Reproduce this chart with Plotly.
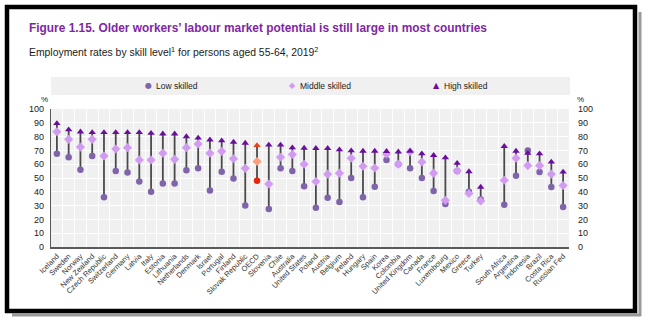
import plotly.graph_objects as go

countries = ["Iceland", "Sweden", "Norway", "New Zealand", "Czech Republic", "Switzerland",
             "Germany", "Latvia", "Italy", "Estonia", "Lithuania", "Netherlands", "Denmark",
             "Israel", "Portugal", "Finland", "Slovak Republic", "OECD", "Slovenia", "Chile",
             "Australia", "United States", "Poland", "Austria", "Belgium", "Ireland", "Hungary",
             "Spain", "Korea", "Colombia", "United Kingdom", "Canada", "France", "Luxembourg",
             "Mexico", "Greece", "Turkey", "South Africa", "Argentina", "Indonesia", "Brazil",
             "Costa Rica", "Russian Fed"]

low_skilled = [67.6, 65, 56, 66, 36, 55, 54, 47.5, 40, 46, 46, 55.6, 57, 41, 54.5, 49.6, 30,
               48, 27.6, 57, 55, 44, 28.5, 35.7, 32.6, 50, 36, 43.6, 63, 60, 57, 50, 40.5,
               31.2, 55, 40, 34.5, 30.7, 51.6, 70, 54.4, 43.4, 29]
middle_skilled = [83.5, 78, 72.4, 78, 66, 71, 72, 63, 63, 68, 63.5, 72, 74.6, 68, 69.3, 64,
                  57, 62, 45.6, 65, 67, 60, 47.5, 52.8, 53.5, 64.3, 58.5, 57.3, 67.4, 60, 69,
                  61.6, 53.5, 33.8, 55.2, 38.8, 33.3, 48.4, 64.3, 59, 59, 52.8, 44.6]
high_skilled = [89.5, 85, 83.5, 83, 83, 83, 83, 83, 82.5, 82, 82, 80, 79, 77.7, 77, 76, 75.3,
                73.6, 74, 74, 72, 71.7, 71.5, 71.5, 70.5, 69.8, 69.5, 69.5, 69.3, 69, 69.5,
                67.6, 66.4, 64.7, 60.7, 54.7, 43.4, 73, 69.5, 68, 67.6, 61.6, 54.4]

gap_after = "Turkey"
y_ticks = list(range(0, 101, 10))

# category order with an empty slot between OECD members and partner economies
cat_order = []
for c in countries:
    cat_order.append(c)
    if c == gap_after:
        cat_order.append(" ")

LOW_C, MID_C, HIGH_C = "#8064AA", "#D29BF2", "#6A0EA0"
OECD_LOW, OECD_MID, OECD_HIGH = "#E8230E", "#FF9C7E", "#E8421A"
FONT = "Liberation Sans, Arial, sans-serif"

W, H = 648, 333
ML, MR, MT, MB = 51, 79, 109, 86
PW, PH = W - ML - MR, H - MT - MB


def px(x):
    return (x - ML) / PW


def py(y):
    return (H - MB - y) / PH


line_x, line_y = [], []
for c, a, b, d in zip(countries, low_skilled, middle_skilled, high_skilled):
    vals = [a, b, d]
    line_x += [c, c, None]
    line_y += [min(vals), max(vals), None]

fig = go.Figure()
fig.add_trace(go.Scatter(x=line_x, y=line_y, mode="lines",
                         line=dict(color="#4a4a4a", width=1.8), showlegend=False,
                         hoverinfo="skip"))
fig.add_trace(go.Scatter(x=countries, y=low_skilled, mode="markers", name="Low skilled",
                         marker=dict(symbol="circle", size=6.5,
                                     color=[OECD_LOW if c == "OECD" else LOW_C for c in countries]),
                         showlegend=False))
fig.add_trace(go.Scatter(x=countries, y=middle_skilled, mode="markers", name="Middle skilled",
                         marker=dict(symbol="diamond", size=7,
                                     color=[OECD_MID if c == "OECD" else MID_C for c in countries]),
                         showlegend=False))
fig.add_trace(go.Scatter(x=countries, y=high_skilled, mode="markers", name="High skilled",
                         marker=dict(symbol="triangle-up", size=6.5,
                                     color=[OECD_HIGH if c == "OECD" else HIGH_C for c in countries]),
                         showlegend=False))
# anchor for right-hand axis
fig.add_trace(go.Scatter(x=[countries[0]], y=[None], yaxis="y2", showlegend=False,
                         hoverinfo="skip", mode="markers"))

annotations = [
    dict(text="<b>Figure 1.15. Older workers’ labour market potential is still large in most countries</b>",
         x=px(27), y=py(28), font=dict(size=11.9, color="#7F27A3", family=FONT)),
    dict(text="Employment rates by skill level<sup>1</sup> for persons aged 55-64, 2019<sup>2</sup>",
         x=px(27), y=py(52), font=dict(size=10.4, color="#1a1a1a", family=FONT)),
    dict(text="%", x=px(39), y=py(100), font=dict(size=8, color="#222", family=FONT)),
    dict(text="%", x=px(575), y=py(100), font=dict(size=8, color="#222", family=FONT)),
]
for xm, sym, col, label in [(147, "●", LOW_C, "Low skilled"),
                            (291, "◆", MID_C, "Middle skilled"),
                            (435, "▲", HIGH_C, "High skilled")]:
    annotations.append(dict(text=sym, x=px(xm - 4), y=py(86),
                            font=dict(size=8, color=col, family="DejaVu Sans")))
    annotations.append(dict(text=label, x=px(xm + 7), y=py(86),
                            font=dict(size=8.5, color="#222", family=FONT)))
for a in annotations:
    a.update(xref="paper", yref="paper", xanchor="left", yanchor="middle", showarrow=False)

shapes = [
    dict(type="rect", xref="paper", yref="paper", x0=px(51), x1=px(570), y0=py(95), y1=py(77),
         fillcolor="#F0F0F0", line=dict(width=0), layer="below"),
    # screenshot frame with shadow
    dict(type="line", xref="paper", yref="paper", x0=px(640), x1=px(640), y0=py(12), y1=py(316),
         line=dict(color="#9a9a9a", width=3)),
    dict(type="line", xref="paper", yref="paper", x0=px(12), x1=px(641), y0=py(315), y1=py(315),
         line=dict(color="#9a9a9a", width=3)),
    dict(type="rect", xref="paper", yref="paper", x0=px(7), x1=px(635), y0=py(311), y1=py(7),
         line=dict(color="#000000", width=4.5)),
]

fig.update_layout(
    width=W, height=H, margin=dict(l=ML, r=MR, t=MT, b=MB, pad=0),
    paper_bgcolor="white", plot_bgcolor="#F0F0F0",
    font=dict(family=FONT, color="#222"),
    xaxis=dict(type="category", categoryorder="array", categoryarray=cat_order,
               range=[-0.5, len(cat_order) - 0.5], tickson="boundaries", showgrid=True,
               gridcolor="white", gridwidth=1, ticks="", tickangle=-45,
               tickfont=dict(size=7.5, color="#333", family=FONT),
               showline=True, linecolor="#5a5a5a", linewidth=2, zeroline=False),
    yaxis=dict(range=[0, 100], tickvals=y_ticks, showgrid=True, gridcolor="white", gridwidth=1,
               tickfont=dict(size=9, color="#222", family=FONT), ticks="",
               showline=True, linecolor="#5a5a5a", linewidth=1.2, zeroline=False,
               ticklabelstandoff=4),
    yaxis2=dict(range=[0, 100], tickvals=y_ticks, overlaying="y", side="right", showgrid=False,
                tickfont=dict(size=9, color="#222", family=FONT), ticks="", zeroline=False,
                showline=False, ticklabelstandoff=8),
    annotations=annotations, shapes=shapes, showlegend=False,
)

fig.write_html("out.html")
